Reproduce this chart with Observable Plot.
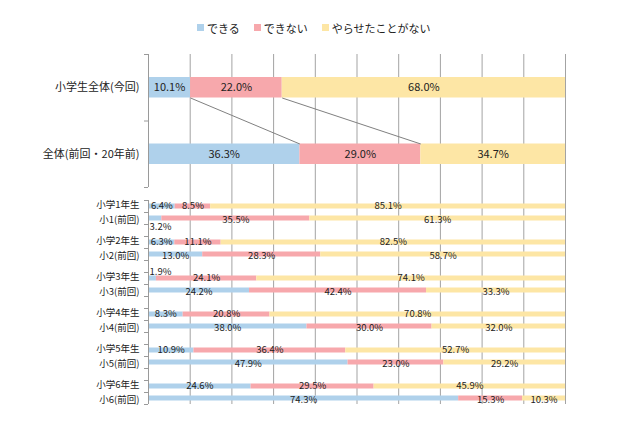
<!DOCTYPE html>
<html><head><meta charset="utf-8">
<script src="https://cdn.jsdelivr.net/npm/d3@7"></script>
<script src="https://cdn.jsdelivr.net/npm/@observablehq/plot@0.6"></script>
<style>
body{margin:0;background:#fff;width:640px;height:426px;overflow:hidden;font-family:"Noto Sans CJK JP",sans-serif;}
#legend{height:44px;box-sizing:border-box;padding-top:11px;padding-left:197px;overflow:hidden;}
#legend span{margin-right:14px !important;}
#legend svg{margin-right:3px !important;}
svg{display:block}
</style></head><body>
<div id="legend"></div><div id="top"></div><div id="bottom"></div>
<script>
// ---- data ----
const series = ["できる", "できない", "やらせたことがない"];
const colors = ["#afd1eb", "#f7a8ac", "#fde6a5"];

const topCategories = ["小学生全体(今回)", "全体(前回・20年前)"];
const topCan    = [10.1, 36.3];
const topCannot = [22.0, 29.0];
const topNever  = [68.0, 34.7];

const bottomCategories = ["小学1年生", "小1(前回)", "小学2年生", "小2(前回)", "小学3年生", "小3(前回)",
                          "小学4年生", "小4(前回)", "小学5年生", "小5(前回)", "小学6年生", "小6(前回)"];
const bottomCan    = [6.4, 3.2, 6.3, 13.0, 1.9, 24.2, 8.3, 38.0, 10.9, 47.9, 24.6, 74.3];
const bottomCannot = [8.5, 35.5, 11.1, 28.3, 24.1, 42.4, 20.8, 30.0, 36.4, 23.0, 29.5, 15.3];
const bottomNever  = [85.1, 61.3, 82.5, 58.7, 74.1, 33.3, 70.8, 32.0, 52.7, 29.2, 45.9, 10.3];

const gridTicks = [0.1, 0.2, 0.3, 0.4, 0.5, 0.6, 0.7, 0.8, 0.9, 1.0];

// ---- styling ----
const FONT = '"Noto Sans CJK JP", "Noto Sans", sans-serif';
const GRID = "#a3a3a3", AXIS = "#9a9a9a", TEXT = "#222";
const fmt = v => v.toFixed(1) + "%";
const baseStyle = {fontFamily: FONT, fontSize: "11px", color: TEXT, background: "#fff", overflow: "visible"};

// ---- legend ----
document.getElementById("legend").appendChild(Plot.legend({
  color: {type: "ordinal", domain: series, range: colors},
  swatchSize: 7,
  style: {fontFamily: FONT, fontSize: "11px", color: TEXT, marginBottom: 0}
}));

// ---- top chart ----
const topValues = [topCan, topCannot, topNever];
const topRows = topCategories.flatMap((c, i) => series.map((s, j) => ({cat: c, i, series: s, value: topValues[j][i]})));
const H1 = 150, T_TOP = 10, T_BOTTOM = 143, TOP_INSET = 23;
const frac = TOP_INSET / ((T_BOTTOM - T_TOP) / topCategories.length);
const normCum = i => { const v = series.map((s, j) => topValues[j][i]); const t = d3.sum(v); return Array.from(d3.cumsum(v), c => c / t); };
const c0 = normCum(0), c1 = normCum(1);
const connectors = [0, 1].map(j => ({x1: c0[j], x2: c1[j], y1: 1 - frac, y2: 1 + frac}));

const topPlot = Plot.plot({
  width: 640, height: H1,
  marginLeft: 148, marginRight: 75, marginTop: T_TOP, marginBottom: 0,
  x: {domain: [0, 1], axis: null},
  y: {domain: [0, topCategories.length], range: [T_TOP, T_BOTTOM]},
  color: {domain: series, range: colors},
  style: baseStyle,
  marks: [
    Plot.ruleX(gridTicks, {stroke: GRID}),
    Plot.rectX(topRows, Plot.stackX({x: "value", y1: "i", y2: d => d.i + 1, fill: "series", offset: "normalize", insetTop: TOP_INSET, insetBottom: TOP_INSET})),
    Plot.link(connectors, {x1: "x1", y1: "y1", x2: "x2", y2: "y2", stroke: "#808080", strokeWidth: 1}),
    Plot.ruleX([0], {y1: 0, y2: topCategories.length, stroke: AXIS}),
    Plot.axisY(d3.range(topCategories.length + 1), {tickSize: 4, tickFormat: () => "", stroke: AXIS, label: null}),
    Plot.axisY(topCategories.map((c, i) => i + 0.5), {tickSize: 0, tickPadding: 9, tickFormat: v => topCategories[Math.floor(v)], label: null, fontSize: 11, fill: TEXT}),
    Plot.text(topRows, Plot.stackX({x: "value", y: d => d.i + 0.5, z: "series", offset: "normalize", text: d => fmt(d.value), fontSize: 11, fill: TEXT}))
  ]
});
document.getElementById("top").appendChild(topPlot);

// ---- bottom chart ----
const bottomValues = [bottomCan, bottomCannot, bottomNever];
const slotOf = k => k + Math.floor(k / 2);
const nSlots = slotOf(bottomCategories.length - 1) + 1;
const rows = bottomCategories.flatMap((c, k) => series.map((s, j) => ({cat: c, k, slot: slotOf(k), series: s, value: bottomValues[j][k]})));
const isSmall = d => d.series === series[0] && d.value < 5;
const isPrev = d => d.k % 2 === 1;
const labelBySlot = new Map(bottomCategories.map((c, k) => [slotOf(k) + 0.5, c]));
const curSlots = bottomCategories.map((c, k) => slotOf(k) + 0.5).filter((v, k) => k % 2 === 0);
const prevSlots = bottomCategories.map((c, k) => slotOf(k) + 0.5).filter((v, k) => k % 2 === 1);
const H2 = 232, B_TOP = 6, B_BOTTOM = 210, B_INSET = 3.5;
const labelOpts = {tickSize: 0, tickPadding: 9, tickFormat: v => labelBySlot.get(v), label: null, fontSize: 9.5, fill: TEXT};
const valueLabels = (prev, dy) => Plot.text(rows, Plot.stackX({
  x: "value", y: d => d.slot + 0.5, z: "series", offset: "normalize",
  text: d => (isPrev(d) === prev && !isSmall(d)) ? fmt(d.value) : "",
  fontSize: 9.5, fill: TEXT, dy
}));

const bottomPlot = Plot.plot({
  width: 640, height: H2,
  marginLeft: 148, marginRight: 75, marginTop: 0, marginBottom: H2 - B_BOTTOM,
  x: {domain: [0, 1], axis: null},
  y: {domain: [0, nSlots], range: [B_TOP, B_BOTTOM]},
  color: {domain: series, range: colors},
  style: baseStyle,
  marks: [
    Plot.ruleX(gridTicks, {stroke: GRID}),
    Plot.rectX(rows, Plot.stackX({x: "value", y1: "slot", y2: d => d.slot + 1, fill: "series", offset: "normalize", insetTop: B_INSET, insetBottom: B_INSET})),
    Plot.ruleX([0], {y1: 0, y2: nSlots, stroke: AXIS}),
    Plot.axisY(d3.range(nSlots + 1), {tickSize: 4, tickFormat: () => "", stroke: AXIS, label: null}),
    Plot.axisY(curSlots, {...labelOpts, dy: -1.5}),
    Plot.axisY(prevSlots, {...labelOpts, dy: 1.5}),
    valueLabels(false, -1),
    valueLabels(true, 1),
    Plot.text(rows.filter(d => isSmall(d) && !isPrev(d)), {y: d => d.slot + 0.5, text: d => fmt(d.value), frameAnchor: "left", textAnchor: "start", dx: 1, dy: -7, fontSize: 9.5, fill: TEXT}),
    Plot.text(rows.filter(d => isSmall(d) && isPrev(d)), {y: d => d.slot + 0.5, text: d => fmt(d.value), frameAnchor: "left", textAnchor: "start", dx: 1, dy: 8, fontSize: 9.5, fill: TEXT})
  ]
});
document.getElementById("bottom").appendChild(bottomPlot);
</script>
</body></html>
